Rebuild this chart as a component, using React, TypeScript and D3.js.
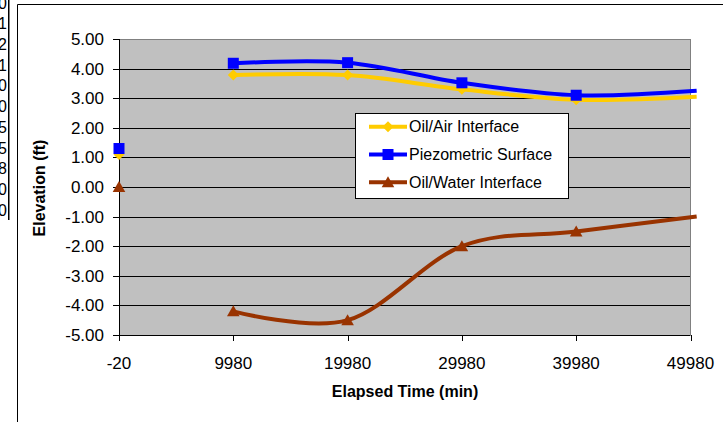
import React from "react";
import * as d3 from "d3";

// Elapsed time (min); the blank row at 4980 breaks each line after the first reading
const TIMES: number[] = [-20, 4980, 9980, 19980, 29980, 39980, 50520];
const OIL_AIR: (number | null)[] = [1.1, null, 3.78, 3.78, 3.3, 2.95, 3.05];
const PIEZOMETRIC: (number | null)[] = [1.3, null, 4.18, 4.2, 3.52, 3.1, 3.25];
const OIL_WATER: (number | null)[] = [0.0, null, -4.2, -4.5, -2.0, -1.5, -1.0];

const X_TICKS: number[] = [-20, 9980, 19980, 29980, 39980, 49980];
const Y_TICKS: number[] = [-5, -4, -3, -2, -1, 0, 1, 2, 3, 4, 5];

// Spreadsheet cells peeking out on the left edge
const SIDE_CELLS: string[] = ["0", "1", "2", "1", "0", "0", "5", "5", "8", "0", "0"];

const SERIES = [
  { name: "Oil/Air Interface", values: OIL_AIR, color: "#FFCC00", marker: "diamond" },
  { name: "Piezometric Surface", values: PIEZOMETRIC, color: "#0000FF", marker: "square" },
  { name: "Oil/Water Interface", values: OIL_WATER, color: "#993300", marker: "triangle" },
];

const W = 723;
const H = 422;
const PLOT = { left: 119, right: 690.5, top: 39, bottom: 335 };
const FONT = "'Liberation Sans', Arial, sans-serif";

const fmt = d3.formatLocale({
  decimal: ".",
  thousands: ",",
  grouping: [3],
  currency: ["", ""],
  minus: "-",
}).format(".2f");

function Marker({ kind, x, y, color }: { kind: string; x: number; y: number; color: string }) {
  if (kind === "square") {
    return <rect x={x - 5.5} y={y - 5.5} width={11} height={11} fill={color} />;
  }
  if (kind === "diamond") {
    return (
      <path d={`M${x},${y - 5.5}L${x + 5.5},${y}L${x},${y + 5.5}L${x - 5.5},${y}Z`} fill={color} />
    );
  }
  return <path d={`M${x},${y - 6}L${x + 6.3},${y + 5}L${x - 6.3},${y + 5}Z`} fill={color} />;
}

export default function App() {
  const x = d3.scaleLinear().domain([-20, 49980]).range([PLOT.left, PLOT.right]);
  const y = d3.scaleLinear().domain([-5, 5]).range([PLOT.bottom, PLOT.top]);

  const line = d3
    .line<[number, number | null]>()
    .defined((d) => d[1] !== null)
    .x((d) => x(d[0]))
    .y((d) => y(d[1] as number))
    .curve(d3.curveCardinal.tension(0));

  const [xMin, xMax] = x.domain();

  return (
    <svg
      width={W}
      height={H}
      style={{ position: "absolute", left: 0, top: 0, background: "#fff" }}
      fontFamily={FONT}
    >
      <rect x={0} y={0} width={W} height={H} fill="#fff" />

      {/* neighbouring worksheet cells */}
      {SIDE_CELLS.map((t, i) => (
        <text key={i} x={7} y={2.6 + i * 20.7 + 6} fontSize={16} textAnchor="end" fill="#000">
          {t}
        </text>
      ))}
      <line x1={8.75} x2={8.75} y1={0} y2={220} stroke="#000" strokeWidth={1.5} />

      {/* chart area frame */}
      <line x1={17.5} x2={17.5} y1={4.5} y2={H} stroke="#000" strokeWidth={1} />
      <line x1={17.5} x2={W} y1={4.5} y2={4.5} stroke="#000" strokeWidth={1} />

      {/* plot area */}
      <rect
        x={PLOT.left}
        y={PLOT.top}
        width={PLOT.right - PLOT.left}
        height={PLOT.bottom - PLOT.top}
        fill="#C0C0C0"
      />
      {Y_TICKS.filter((v) => v !== -5 && v !== 5).map((v) => (
        <line
          key={v}
          x1={PLOT.left}
          x2={PLOT.right}
          y1={Math.round(y(v)) + 0.5}
          y2={Math.round(y(v)) + 0.5}
          stroke="#000"
          strokeWidth={1}
        />
      ))}
      <line x1={PLOT.left} x2={PLOT.right} y1={PLOT.top + 0.5} y2={PLOT.top + 0.5} stroke="#808080" />
      <line x1={PLOT.right} x2={PLOT.right} y1={PLOT.top} y2={PLOT.bottom} stroke="#808080" />

      {/* y axis */}
      <line x1={PLOT.left + 0.5} x2={PLOT.left + 0.5} y1={PLOT.top} y2={PLOT.bottom + 0.5} stroke="#000" />
      {Y_TICKS.map((v) => (
        <g key={v}>
          <line
            x1={PLOT.left - 6}
            x2={PLOT.left}
            y1={Math.round(y(v)) + 0.5}
            y2={Math.round(y(v)) + 0.5}
            stroke="#000"
          />
          <text x={104} y={y(v) + 6} fontSize={17} textAnchor="end" fill="#000">
            {fmt(v)}
          </text>
        </g>
      ))}

      {/* x axis */}
      <line x1={PLOT.left} x2={PLOT.right} y1={PLOT.bottom + 0.5} y2={PLOT.bottom + 0.5} stroke="#000" />
      {X_TICKS.map((v) => (
        <g key={v}>
          <line
            x1={Math.round(x(v)) + 0.5}
            x2={Math.round(x(v)) + 0.5}
            y1={PLOT.bottom}
            y2={PLOT.bottom + 6}
            stroke="#000"
          />
          <text x={x(v)} y={369} fontSize={17} textAnchor="middle" fill="#000">
            {v}
          </text>
        </g>
      ))}

      {/* series */}
      {SERIES.map((s) => {
        const pts = TIMES.map((t, i) => [t, s.values[i]] as [number, number | null]);
        return (
          <g key={s.name}>
            <path d={line(pts) || ""} fill="none" stroke={s.color} strokeWidth={4} strokeLinejoin="round" />
            {pts
              .filter((p) => p[1] !== null && p[0] >= xMin && p[0] <= xMax)
              .map((p, i) => (
                <Marker key={i} kind={s.marker} x={x(p[0])} y={y(p[1] as number)} color={s.color} />
              ))}
          </g>
        );
      })}

      {/* axis titles */}
      <text x={405} y={397} fontSize={16} fontWeight="bold" textAnchor="middle" fill="#000">
        Elapsed Time (min)
      </text>
      <text
        transform="translate(45,188) rotate(-90)"
        fontSize={16}
        fontWeight="bold"
        textAnchor="middle"
        fill="#000"
      >
        Elevation (ft)
      </text>

      {/* legend */}
      <rect x={355.5} y={113.5} width={213} height={85} fill="#fff" stroke="#000" strokeWidth={1} />
      {SERIES.map((s, i) => {
        const cy = 126.7 + i * 27.8;
        return (
          <g key={s.name}>
            <line x1={369} x2={407} y1={cy} y2={cy} stroke={s.color} strokeWidth={4} />
            <Marker kind={s.marker} x={388} y={cy} color={s.color} />
            <text x={409} y={cy + 5.5} fontSize={16} fill="#000">
              {s.name}
            </text>
          </g>
        );
      })}
    </svg>
  );
}
